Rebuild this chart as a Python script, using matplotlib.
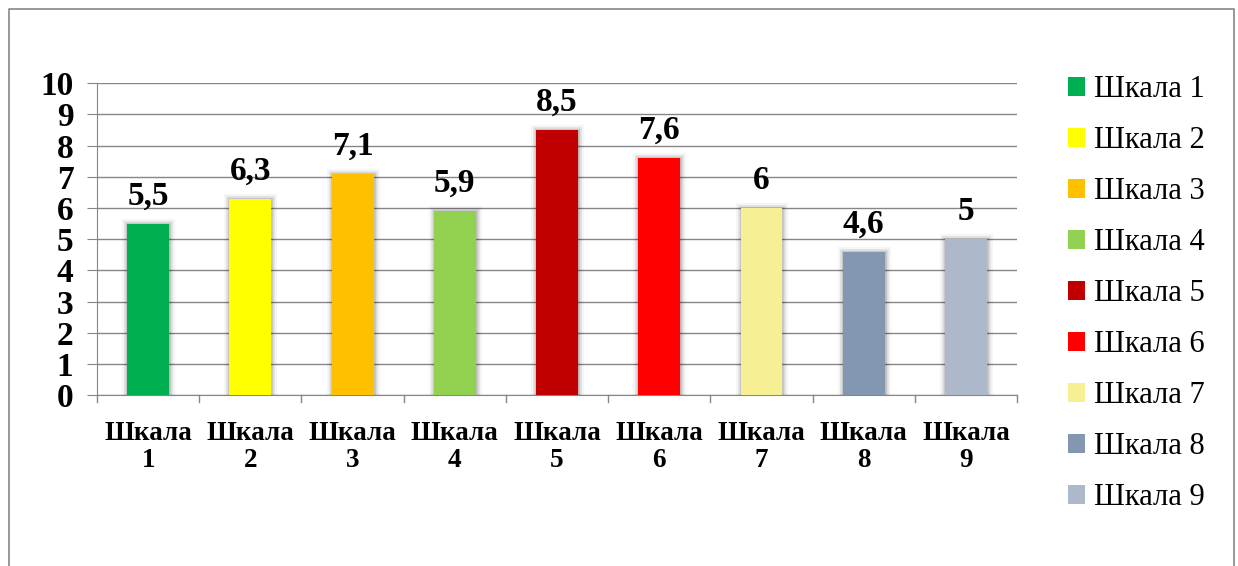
import matplotlib
matplotlib.use('Agg')
import matplotlib.pyplot as plt
import matplotlib.patheffects as pe
from matplotlib.lines import Line2D
from matplotlib.patches import Patch

categories = ['Шкала 1', 'Шкала 2', 'Шкала 3', 'Шкала 4', 'Шкала 5',
              'Шкала 6', 'Шкала 7', 'Шкала 8', 'Шкала 9']
values = [5.5, 6.3, 7.1, 5.9, 8.5, 7.6, 6, 4.6, 5]
colors = ['#00B050', '#FFFF00', '#FFC000', '#92D050', '#C00000',
          '#FF0000', '#F7EF94', '#8497B0', '#ADB9CA']
y_ticks = list(range(0, 11))

plt.rcParams['font.family'] = ['Liberation Serif', 'DejaVu Serif']

fig = plt.figure(figsize=(12.38, 5.66), dpi=100)
ax = fig.add_axes([0.0784, 0.302, 0.7431, 0.551])

x = list(range(len(values)))
# мягкая тень вокруг столбцов
shadow = [pe.Stroke(linewidth=8, foreground='black', alpha=0.04),
          pe.Stroke(linewidth=5, foreground='black', alpha=0.07),
          pe.Stroke(linewidth=2.5, foreground='black', alpha=0.12),
          pe.Normal()]
bars = ax.bar(x, values, width=0.41, color=colors, linewidth=0, zorder=3)
for b in bars:
    b.set_path_effects(shadow)

for xi, v in zip(x, values):
    label = ('%g' % v).replace('.', ',')
    ax.text(xi, v + 0.38, label, ha='center', va='bottom',
            fontsize=24, fontweight='bold', zorder=4)

ax.set_xlim(-0.5, len(values) - 0.5)
ax.set_ylim(0, 10)
ax.set_yticks(y_ticks)
ax.set_yticklabels([str(t) for t in y_ticks], fontsize=24, fontweight='bold')
ax.set_xticks(x)
ax.set_xticklabels([c.replace(' ', '\n') for c in categories],
                   fontsize=19.5, fontweight='bold', linespacing=1.1)
ax.tick_params(axis='x', length=0, pad=19)
ax.tick_params(axis='y', length=7, color='#868686', pad=10)

# засечки между категориями
for b in range(len(values) + 1):
    ax.plot([b - 0.5, b - 0.5], [0, -0.22], color='#868686', lw=1,
            clip_on=False, zorder=2)

ax.grid(axis='y', color='#868686', lw=1, zorder=0)
for s in ['top', 'right']:
    ax.spines[s].set_visible(False)
ax.spines['left'].set_color('#868686')
ax.spines['bottom'].set_color('#868686')

handles = [Patch(facecolor=c, edgecolor='none') for c in colors]
leg = fig.legend(handles, categories, loc='upper left',
                 bbox_to_anchor=(0.8627, 0.867), frameon=False,
                 borderaxespad=0, borderpad=0,
                 fontsize=22, handlelength=0.55, handleheight=0.55,
                 handletextpad=0.3, labelspacing=0.72)

# рамка диаграммы
fig.add_artist(Line2D([0.0073, 0.0073, 0.9968, 0.9968], [0.0, 0.984, 0.984, 0.0],
                      transform=fig.transFigure, color='#868686', lw=1.2))

fig.savefig('out.png', dpi=100)
plt.close(fig)
